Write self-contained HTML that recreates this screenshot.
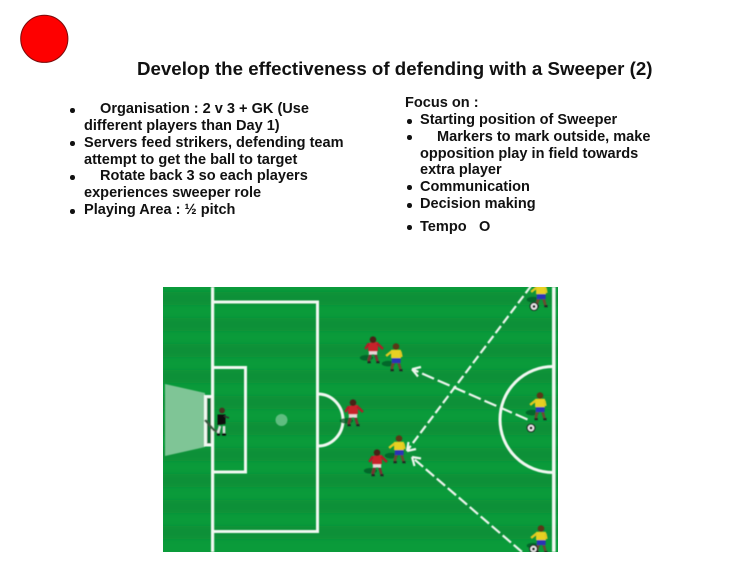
<!DOCTYPE html>
<html><head><meta charset="utf-8">
<style>
html,body{margin:0;padding:0;background:#fff}
body{width:750px;height:562px;position:relative;overflow:hidden;font-family:"Liberation Sans",sans-serif;font-weight:bold;color:#111}
.t{position:absolute;white-space:pre;font-size:14.55px;line-height:17px;height:17px}
.b{position:absolute;width:4.6px;height:4.6px;border-radius:50%;background:#111}
svg{position:absolute;left:0;top:0}
</style></head><body>
<svg width="750" height="562" viewBox="0 0 750 562">
<defs>
<clipPath id="pitch"><rect x="163" y="287" width="395" height="265"/></clipPath>
<filter id="s" x="-10%" y="-10%" width="120%" height="120%"><feGaussianBlur stdDeviation="0.4"/></filter>
<filter id="s2" x="-5%" y="-5%" width="110%" height="110%"><feGaussianBlur stdDeviation="2"/></filter>
<g id="red" transform="scale(1.1)">
<ellipse cx="-6" cy="8" rx="6" ry="2.6" fill="#075a28" opacity=".8"/>
<path d="M-2 4 L-4 11 M2 4 L4 11" stroke="#7a3030" stroke-width="2.4"/>
<rect x="-3.8" y="1" width="7.6" height="4" fill="#e8d8d8"/>
<path d="M-4.5 -5.5 L4.5 -6.5 L4.5 2 L-4.5 2Z" fill="#c8202c"/>
<path d="M-4 -5 L-7 0 M4 -5 L9 0" stroke="#b01c28" stroke-width="2.2"/>
<circle cx="0" cy="-8.5" r="3" fill="#4a2018"/>
<path d="M-5 12h3M3 12h3" stroke="#222" stroke-width="2"/>
</g>
<g id="yel" transform="scale(1.1)">
<ellipse cx="-7" cy="6" rx="6" ry="2.6" fill="#075a28" opacity=".8"/>
<path d="M-2 4 L-4 11 M2 4 L4 11" stroke="#6a4a30" stroke-width="2.4"/>
<rect x="-3.8" y="0" width="8" height="5.5" fill="#2a30b8"/>
<path d="M-4.5 -6.5 L4.5 -6.5 L4.5 1 L-4.5 1Z" fill="#e8d020"/>
<path d="M-4 -5 L-9 -1 M4 -5 L5 0" stroke="#e0c820" stroke-width="2.2"/>
<circle cx="0" cy="-9.5" r="3" fill="#5a3818"/>
<path d="M-5 12h3M3 12h3" stroke="#222" stroke-width="2"/>
</g>
<g id="ball"><circle r="3.8" fill="#f0f0f0" stroke="#222" stroke-width="1.2"/><circle r="1.5" fill="#222"/></g>
</defs>

<circle cx="44.3" cy="38.8" r="23.6" fill="#fe0000" stroke="#7a0a0a" stroke-width="1"/>

<g clip-path="url(#pitch)">
<rect x="163" y="287" width="395" height="265" fill="#0a9b3a"/>
<g fill="#0c9039" filter="url(#s2)">
<rect x="150" y="292" width="420" height="13"/>
<rect x="150" y="318" width="420" height="13"/>
<rect x="150" y="344" width="420" height="13"/>
<rect x="150" y="370" width="420" height="13"/>
<rect x="150" y="396" width="420" height="13"/>
<rect x="150" y="422" width="420" height="13"/>
<rect x="150" y="448" width="420" height="13"/>
<rect x="150" y="474" width="420" height="13"/>
<rect x="150" y="500" width="420" height="13"/>
<rect x="150" y="526" width="420" height="13"/>
</g>

<g filter="url(#s)">
<polygon points="165,384 205,393 205,447 165,456" fill="#7fc596"/>
<rect x="206" y="397" width="6" height="47" fill="#0b6f36"/>
<g fill="none" stroke="#f2f8f2" stroke-width="3">
<path d="M212.5 396.5 H205.5 V445 H212.5"/>
<path d="M212.5 302 H317.5 V531.5 H212.5"/>
<path d="M212.5 367.5 H245.5 V472 H212.5"/>
<path d="M318 394 A25 26 0 0 1 318 446"/>
<path d="M553 366.5 A53 53 0 0 0 553 472.5"/>
</g>
<rect x="211" y="287" width="3.2" height="265" fill="#f2f8f2"/>
<rect x="552" y="287" width="3.6" height="265" fill="#f2f8f2"/>
<circle cx="281.5" cy="420" r="6" fill="#5fbd80"/>

<g fill="none" stroke="#eef6ee" stroke-width="2.2" stroke-linecap="butt">
<path d="M527.5 419.5 L414 370" stroke-dasharray="13 4"/>
<path d="M412 369.2 L421 367 M412 369.2 L418 376.5"/>
<path d="M531 286 L408 449.5" stroke-dasharray="9 3.5"/>
<path d="M407 451 L408.5 442 M407 451 L416 449"/>
<path d="M522 552 L414 459" stroke-dasharray="11 3.5"/>
<path d="M412 457 L421 458.5 M412 457 L414.5 466"/>
</g>

<use href="#red" x="373" y="349"/>
<use href="#yel" x="396" y="357"/>
<use href="#red" x="353" y="412"/>
<use href="#red" x="377" y="462"/>
<use href="#yel" x="399" y="449"/>
<use href="#yel" x="540" y="406"/>
<use href="#yel" x="541" y="293"/>
<use href="#yel" x="541" y="539"/>
<use href="#ball" x="534" y="306.5"/>
<use href="#ball" x="531" y="428"/>
<use href="#ball" x="533.5" y="549"/>

<g>
<path d="M205 420 L214 430 L220 433" stroke="#3a5a40" stroke-width="2.4" fill="none"/>
<path d="M220 426 L218 433 M224 426 L224 433" stroke="#ddd" stroke-width="2.6"/>
<path d="M217.5 414.5 H225.5 V424 L217.5 425Z" fill="#111"/>
<path d="M224 416 L229 418" stroke="#333" stroke-width="1.5"/>
<circle cx="222" cy="410.5" r="2.9" fill="#4a3020"/>
<path d="M217 434.5h3M222 434.5h4" stroke="#111" stroke-width="2.2"/>
</g>
</g>
</g>
</svg>

<div class="t" style="left:137px;top:58px;font-size:18.72px;line-height:22px;height:22px">Develop the effectiveness of defending with a Sweeper (2)</div>

<div class="b" style="left:70px;top:108px"></div>
<div class="t" style="left:100px;top:101px">Organisation : 2 v 3 + GK (Use</div>
<div class="t" style="left:84px;top:118px">different players than Day 1)</div>
<div class="b" style="left:70px;top:141px"></div>
<div class="t" style="left:84px;top:134.5px">Servers feed strikers, defending team</div>
<div class="t" style="left:84px;top:151.5px">attempt to get the ball to target</div>
<div class="b" style="left:70px;top:175px"></div>
<div class="t" style="left:100px;top:168px">Rotate back 3 so each players</div>
<div class="t" style="left:84px;top:185px">experiences sweeper role</div>
<div class="b" style="left:70px;top:209px"></div>
<div class="t" style="left:84px;top:202px">Playing Area : ½ pitch</div>

<div class="t" style="left:405px;top:95px">Focus on :</div>
<div class="b" style="left:407px;top:119px"></div>
<div class="t" style="left:420px;top:112px">Starting position of Sweeper</div>
<div class="b" style="left:407px;top:135px"></div>
<div class="t" style="left:437px;top:128.5px">Markers to mark outside, make</div>
<div class="t" style="left:420px;top:145.5px">opposition play in field towards</div>
<div class="t" style="left:420px;top:162px">extra player</div>
<div class="b" style="left:407px;top:185px"></div>
<div class="t" style="left:420px;top:179px">Communication</div>
<div class="b" style="left:407px;top:203px"></div>
<div class="t" style="left:420px;top:196px">Decision making</div>
<div class="b" style="left:407px;top:225px"></div>
<div class="t" style="left:420px;top:219px">Tempo</div>
<div class="t" style="left:479px;top:219px">O</div>
</body></html>
